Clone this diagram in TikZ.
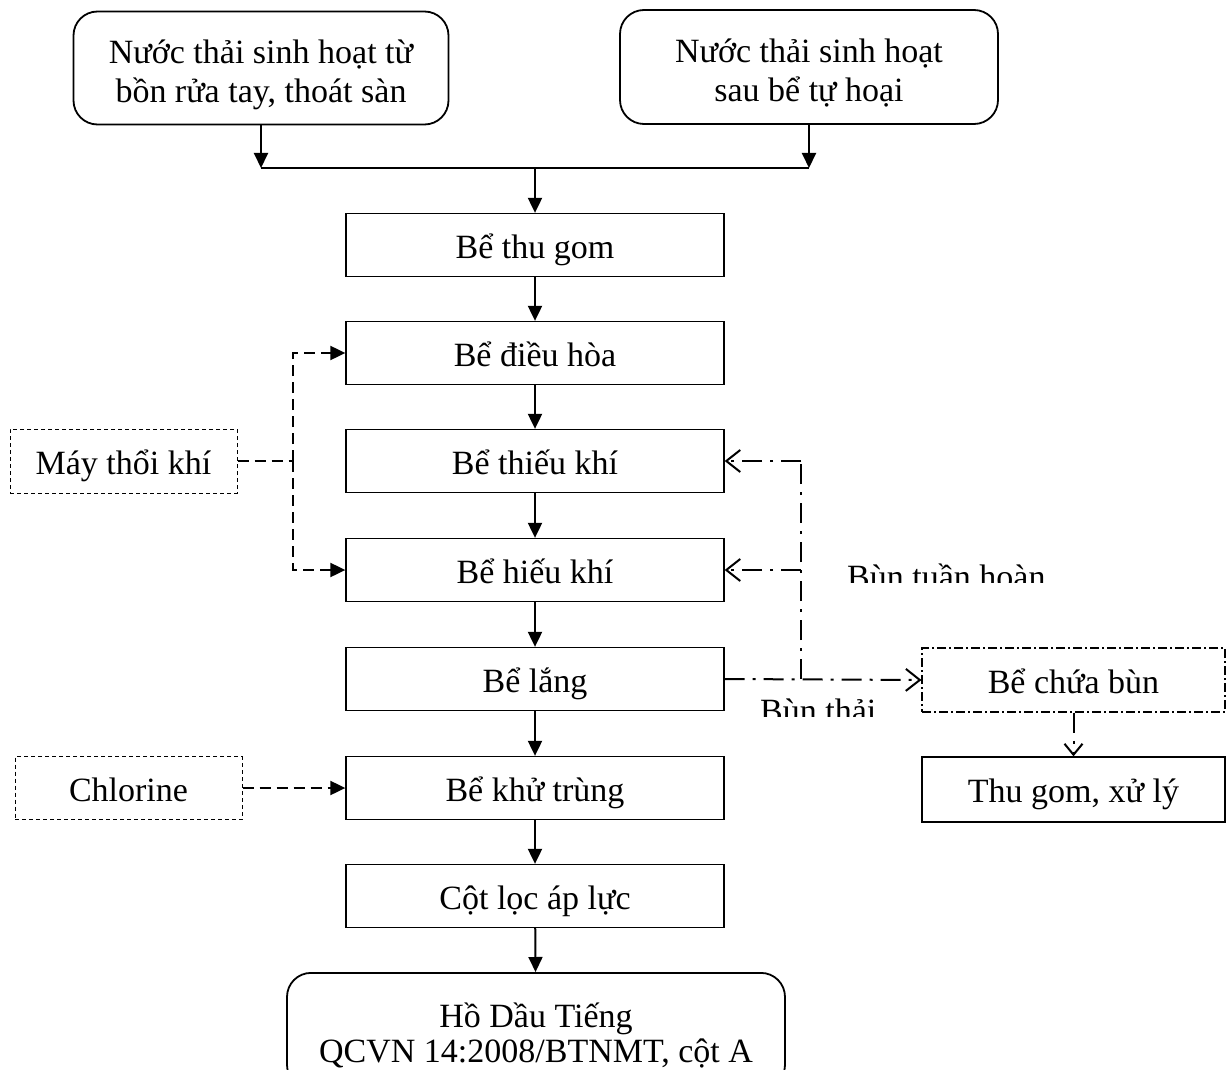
\documentclass[tikz,border=0pt]{standalone}
\usepackage{fontspec}
\setmainfont{Liberation Serif}
\usetikzlibrary{arrows.meta}
\newcommand{\twolines}[4]{\raisebox{#1}[\height][\depth]{\fontsize{34}{#2}\selectfont\begin{tabular}{@{}c@{}}\smash{#3}\\\smash{#4}\end{tabular}}}
\tikzset{
  x=1pt,y=-1pt,
  txt/.style={font=\fontsize{34}{40}\selectfont},
  one/.style={txt,text height=32pt,text depth=6pt},
  mainbox/.style={one,draw,line width=1.3pt,minimum width=378pt,minimum height=63pt,inner sep=0pt},
  roundbox/.style={txt,draw,line width=1.8pt,rounded corners=24pt,inner sep=0pt},
  dashbox/.style={one,draw,line width=1pt,dash pattern=on 4pt off 3pt,inner sep=0pt},
  ddbox/.style={one,draw,line width=1.1pt,dash pattern=on 9pt off 3pt on 2pt off 3pt,inner sep=0pt},
  tip/.style={-{Triangle[length=15pt,width=14pt]}},
  flow/.style={line width=2pt,tip},
  plain/.style={line width=2pt},
  dsh/.style={line width=2pt,dash pattern=on 11pt off 6pt},
  dd/.style={line width=2pt,dash pattern=on 20pt off 8pt on 3pt off 8pt},
  opentip/.style={-{Straight Barb[length=14pt,width=22pt,line width=2pt]}},
}
\begin{document}
\begin{tikzpicture}
\clip (0,0) rectangle (1227,1070);
\fill[white] (0,0) rectangle (1227,1070);

% top sources
\node[roundbox,minimum width=375pt,minimum height=113pt] (tl) at (261,68) {\twolines{-7pt}{39}{Nước thải sinh hoạt từ}{bồn rửa tay, thoát sàn}};
\node[roundbox,minimum width=378pt,minimum height=114pt] (tr) at (809,67) {\twolines{-7pt}{39}{Nước thải sinh hoạt}{sau bể tự hoại}};

% main chain
\node[mainbox] (thu) at (535,245) {Bể thu gom};
\node[mainbox] (dieu) at (535,353) {Bể điều hòa};
\node[mainbox] (thieu) at (535,461) {Bể thiếu khí};
\node[mainbox] (hieu) at (535,570) {Bể hiếu khí};
\node[mainbox] (lang) at (535,679) {Bể lắng};
\node[mainbox] (khu) at (535,788) {Bể khử trùng};
\node[mainbox] (cot) at (535,896) {Cột lọc áp lực};
\node[roundbox,minimum width=498pt,minimum height=116pt,anchor=north] (ho) at (536,972) {\twolines{-7.5pt}{35}{Hồ Dầu Tiếng}{QCVN 14:2008/BTNMT, cột A}};

% side boxes
\node[dashbox,minimum width=227pt,minimum height=64pt] (may) at (123.5,461) {Máy thổi khí};
\node[dashbox,minimum width=227pt,minimum height=63pt] (chl) at (128.5,788) {Chlorine};
\node[ddbox,minimum width=303pt,minimum height=64pt] (cb) at (1073.5,680) {Bể chứa bùn};
\node[mainbox,minimum width=303pt,minimum height=65pt] (tg) at (1073.5,789.5) {Thu gom, xử lý};

% merge of sources
\coordinate (jl) at (261,168);
\coordinate (jr) at (809,168);
\coordinate (jm) at (535,168);
\draw[flow] (tl.south) -- (jl);
\draw[flow] (tr.south) -- (jr);
\draw[plain] (jl) -- (jr);
\draw[flow] (jm) -- (thu.north);

% chain arrows
\draw[flow] (thu) -- (dieu);
\draw[flow] (dieu) -- (thieu);
\draw[flow] (thieu) -- (hieu);
\draw[flow] (hieu) -- (lang);
\draw[flow] (lang) -- (khu);
\draw[flow] (khu) -- (cot);
\draw[flow] (cot) -- (ho);

% air blower
\coordinate (mj) at (293,461);
\draw[dsh] (may.east) -- (mj);
\draw[dsh,tip] (mj) |- (dieu.west);
\draw[dsh,tip] (mj) |- (hieu.west);

% chlorine
\draw[dsh,tip] (chl) -- (khu);

% sludge
\coordinate (rv) at (801,461);
\draw[dd,opentip] (lang.east) -- (cb.west);
\draw[dd] (lang.east -| rv) -- (rv);
\draw[dd,opentip] (rv) -- (thieu.east);
\draw[dd,opentip] (hieu.east -| rv) -- (hieu.east);
\draw[dd,-{Straight Barb[length=11pt,width=18pt,line width=2pt]}] (cb.south) -- (tg.north);

% clipped labels
\begin{scope}
\clip (840,550) rectangle (1070,582);
\node[txt,anchor=base west,inner sep=0pt] (lbt) at (847,588) {Bùn tuần hoàn};
\end{scope}
\begin{scope}
\clip (750,690) rectangle (900,716);
\node[txt,anchor=base west,inner sep=0pt] (lbth) at (760,722) {Bùn thải};
\end{scope}
\end{tikzpicture}
\end{document}
